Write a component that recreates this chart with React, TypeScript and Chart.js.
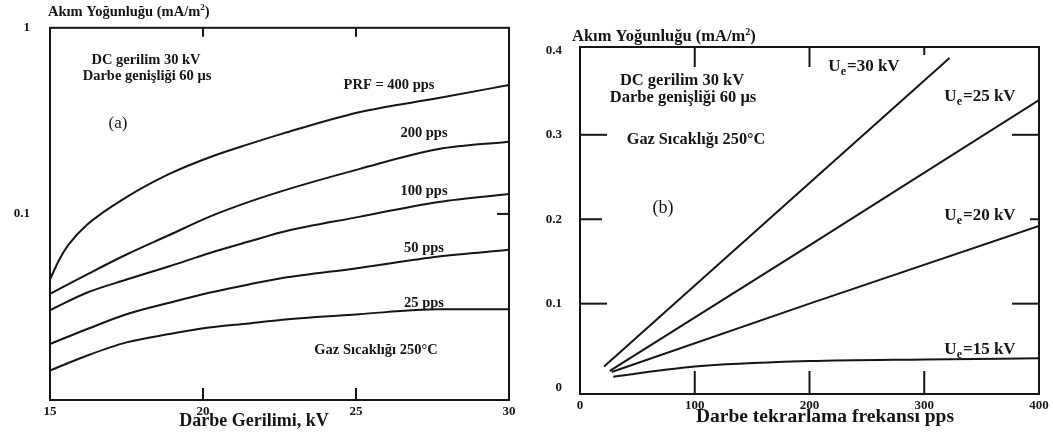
import { useEffect, useRef } from "react";
import { Chart, registerables } from "chart.js";

Chart.register(...registerables);

// ---------- Chart (a): current density vs pulse voltage (log y) ----------
const voltage400 = [15, 15.3, 15.6, 16.2, 17.5, 18.9, 20.2, 21.5, 22.6, 25.1, 27.7, 30];
const prf400 = [0.0444, 0.0567, 0.0682, 0.0871, 0.123, 0.164, 0.201, 0.237, 0.27, 0.352, 0.419, 0.493];
const voltageKV = [15, 16.2, 17.5, 18.9, 20.2, 21.5, 22.6, 25.1, 27.7, 30];
const prf200 = [0.0372, 0.0472, 0.0605, 0.077, 0.0964, 0.116, 0.133, 0.174, 0.223, 0.244];
const prf100 = [0.0304, 0.0377, 0.0444, 0.0523, 0.0615, 0.071, 0.08, 0.0964, 0.116, 0.128];
const prf50 = [0.02, 0.024, 0.0289, 0.0333, 0.0377, 0.0418, 0.0452, 0.0512, 0.059, 0.0641];
const prf25 = [0.0144, 0.0173, 0.0204, 0.0226, 0.0245, 0.0258, 0.027, 0.0289, 0.0307, 0.0307];
const voltTicks = [15, 20, 25, 30];
const densityTicksA = [0.1, 1];

// ---------- Chart (b): current density vs pulse repetition frequency ----------
const freq30 = [21, 200, 322];
const dens30 = [0.0255, 0.243, 0.391];
const freq25 = [26, 200, 400];
const dens25 = [0.0204, 0.169, 0.341];
const freq20 = [27.6, 200, 400];
const dens20 = [0.019, 0.1, 0.192];
const freq15 = [29, 100, 200, 300, 400];
const dens15 = [0.0135, 0.0255, 0.032, 0.034, 0.0353];
const freqTicks = [0, 100, 200, 300, 400];
const densityTicksB = [0, 0.1, 0.2, 0.3, 0.4];

const INK = "#151515";
const FONT = "'Liberation Serif', 'DejaVu Serif', serif";

type Txt = { t: string; x: number; y: number; size: number; align?: CanvasTextAlign; weight?: string };
type Tick = { axis: "top" | "bottom" | "left" | "right"; v: number; len: number };

function drawText(ctx: CanvasRenderingContext2D, a: Txt) {
  const weight = a.weight ?? "bold";
  const big = `${weight} ${a.size}px ${FONT}`;
  const small = `${weight} ${Math.round(a.size * 0.68)}px ${FONT}`;
  ctx.font = big;
  ctx.textBaseline = "middle";
  if (a.t.includes("_e")) {
    const [p1, p2] = a.t.split("_e");
    const w1 = ctx.measureText(p1).width;
    ctx.font = small;
    const w2 = ctx.measureText("e").width + 1;
    ctx.font = big;
    const w3 = ctx.measureText(p2).width;
    const x0 = a.x - (w1 + w2 + w3) / 2;
    ctx.textAlign = "left";
    ctx.fillText(p1, x0, a.y);
    ctx.font = small;
    ctx.fillText("e", x0 + w1, a.y + a.size * 0.3);
    ctx.font = big;
    ctx.fillText(p2, x0 + w1 + w2, a.y);
    return;
  }
  if (a.t.includes("²")) {
    const [p1, p2] = a.t.split("²");
    ctx.textAlign = "left";
    const w1 = ctx.measureText(p1).width;
    ctx.fillText(p1, a.x, a.y);
    ctx.font = `${weight} ${Math.round(a.size * 0.6)}px ${FONT}`;
    const w2 = ctx.measureText("2").width;
    ctx.fillText("2", a.x + w1, a.y - a.size * 0.3);
    ctx.font = big;
    ctx.fillText(p2, a.x + w1 + w2, a.y);
    return;
  }
  ctx.textAlign = a.align ?? "center";
  ctx.fillText(a.t, a.x, a.y);
}

const framePlugin = {
  id: "framePlugin",
  afterDraw(chart: any, _args: any, opts: any) {
    const { ctx, chartArea: ca, scales } = chart;
    ctx.save();
    ctx.strokeStyle = INK;
    ctx.lineWidth = 2;
    ctx.strokeRect(ca.left, ca.top, ca.right - ca.left, ca.bottom - ca.top);
    const ticks: Tick[] = opts.ticks || [];
    for (const t of ticks) {
      ctx.beginPath();
      if (t.axis === "top" || t.axis === "bottom") {
        const px = scales.x.getPixelForValue(t.v);
        const y0 = t.axis === "top" ? ca.top : ca.bottom;
        const dir = t.axis === "top" ? 1 : -1;
        ctx.moveTo(px, y0);
        ctx.lineTo(px, y0 + dir * t.len);
      } else {
        const py = scales.y.getPixelForValue(t.v);
        const x0 = t.axis === "left" ? ca.left : ca.right;
        const dir = t.axis === "left" ? 1 : -1;
        ctx.moveTo(x0, py);
        ctx.lineTo(x0 + dir * t.len, py);
      }
      ctx.stroke();
    }
    ctx.fillStyle = INK;
    for (const a of (opts.texts || []) as Txt[]) drawText(ctx, a);
    ctx.restore();
  },
};

function makeLine(xs: number[], ys: number[], smooth: boolean) {
  return {
    data: xs.map((x, i) => ({ x, y: ys[i] })),
    borderColor: INK,
    borderWidth: 2,
    pointRadius: 0,
    fill: false,
    cubicInterpolationMode: smooth ? ("monotone" as const) : ("default" as const),
    tension: smooth ? 0.4 : 0,
  };
}

const tickFont = { family: FONT, size: 13, weight: "bold" as const };

export default function App() {
  const refA = useRef<HTMLCanvasElement>(null);
  const refB = useRef<HTMLCanvasElement>(null);

  useEffect(() => {
    const chartA = new Chart(refA.current!, {
      type: "line",
      data: {
        datasets: [
          makeLine(voltage400, prf400, true),
          makeLine(voltageKV, prf200, true),
          makeLine(voltageKV, prf100, true),
          makeLine(voltageKV, prf50, true),
          makeLine(voltageKV, prf25, true),
        ],
      },
      options: {
        responsive: false,
        animation: false,
        events: [],
        layout: { padding: { top: 24, right: 21, left: 0, bottom: 0 } },
        plugins: {
          legend: { display: false },
          tooltip: { enabled: false },
          framePlugin: {
            ticks: [
              { axis: "top", v: 20, len: 9 },
              { axis: "top", v: 25, len: 9 },
              { axis: "bottom", v: 20, len: 12 },
              { axis: "bottom", v: 25, len: 12 },
              { axis: "right", v: 0.1, len: 12 },
            ],
            texts: [
              { t: "Akım Yoğunluğu (mA/m²)", x: 48, y: 12, size: 14.5 },
              { t: "DC gerilim 30 kV", x: 146, y: 60, size: 14.5 },
              { t: "Darbe genişliği 60 μs", x: 147, y: 76, size: 14.5 },
              { t: "(a)", x: 118, y: 124, size: 17, weight: "normal" },
              { t: "PRF = 400 pps", x: 389, y: 85, size: 14.5 },
              { t: "200 pps", x: 424, y: 133, size: 14.5 },
              { t: "100 pps", x: 424, y: 191, size: 14.5 },
              { t: "50 pps", x: 424, y: 248, size: 14.5 },
              { t: "25 pps", x: 424, y: 303, size: 14.5 },
              { t: "Gaz Sıcaklığı 250°C", x: 376, y: 350, size: 14.5 },
              { t: "Darbe Gerilimi, kV", x: 254, y: 421, size: 18 },
            ],
          },
        } as any,
        scales: {
          x: {
            type: "linear",
            min: 15,
            max: 30,
            grid: { display: false, drawTicks: false },
            border: { display: false },
            afterBuildTicks: (s: any) => {
              s.ticks = voltTicks.map((v) => ({ value: v }));
            },
            afterFit: (s: any) => {
              s.height = 34;
            },
            ticks: { font: tickFont, color: INK, padding: 4, callback: (v: any) => String(v), maxRotation: 0 },
          },
          y: {
            type: "logarithmic",
            min: 0.01,
            max: 1,
            grid: { display: false, drawTicks: false },
            border: { display: false },
            afterBuildTicks: (s: any) => {
              s.ticks = densityTicksA.map((v) => ({ value: v }));
            },
            afterFit: (s: any) => {
              s.width = 50;
            },
            ticks: { font: tickFont, color: INK, padding: 20, callback: (v: any) => String(v) },
          },
        },
      },
      plugins: [framePlugin],
    } as any);

    const chartB = new Chart(refB.current!, {
      type: "line",
      data: {
        datasets: [
          makeLine(freq30, dens30, false),
          makeLine(freq25, dens25, false),
          makeLine(freq20, dens20, false),
          makeLine(freq15, dens15, true),
        ],
      },
      options: {
        responsive: false,
        animation: false,
        events: [],
        layout: { padding: { top: 47, right: 14, left: 0, bottom: 0 } },
        plugins: {
          legend: { display: false },
          tooltip: { enabled: false },
          framePlugin: {
            ticks: [
              { axis: "top", v: 100, len: 20 },
              { axis: "top", v: 200, len: 20 },
              { axis: "top", v: 300, len: 8 },
              { axis: "bottom", v: 100, len: 23 },
              { axis: "bottom", v: 200, len: 23 },
              { axis: "bottom", v: 300, len: 23 },
              { axis: "left", v: 0.1, len: 27 },
              { axis: "left", v: 0.2, len: 22 },
              { axis: "left", v: 0.3, len: 27 },
              { axis: "right", v: 0.1, len: 27 },
              { axis: "right", v: 0.2, len: 9 },
              { axis: "right", v: 0.3, len: 27 },
            ],
            texts: [
              { t: "Akım Yoğunluğu (mA/m²)", x: 42, y: 37, size: 16.5 },
              { t: "U_e=30 kV", x: 334, y: 67, size: 17 },
              { t: "U_e=25 kV", x: 450, y: 97, size: 17 },
              { t: "U_e=20 kV", x: 450, y: 216, size: 17 },
              { t: "U_e=15 kV", x: 450, y: 350, size: 17 },
              { t: "DC gerilim 30 kV", x: 152, y: 81, size: 16.5 },
              { t: "Darbe genişliği 60 μs", x: 153, y: 98, size: 16.5 },
              { t: "Gaz Sıcaklığı 250°C", x: 166, y: 140, size: 16.3 },
              { t: "(b)", x: 133, y: 208, size: 18, weight: "normal" },
              { t: "Darbe tekrarlama frekansı pps", x: 295, y: 417, size: 19.5 },
            ],
          },
        } as any,
        scales: {
          x: {
            type: "linear",
            min: 0,
            max: 400,
            grid: { display: false, drawTicks: false },
            border: { display: false },
            afterBuildTicks: (s: any) => {
              s.ticks = freqTicks.map((v) => ({ value: v }));
            },
            afterFit: (s: any) => {
              s.height = 40;
            },
            ticks: { font: tickFont, color: INK, padding: 4, callback: (v: any) => String(v), maxRotation: 0 },
          },
          y: {
            type: "linear",
            min: -0.007,
            max: 0.404,
            grid: { display: false, drawTicks: false },
            border: { display: false },
            afterBuildTicks: (s: any) => {
              s.ticks = densityTicksB.map((v) => ({ value: v }));
            },
            afterFit: (s: any) => {
              s.width = 50;
            },
            ticks: { font: tickFont, color: INK, padding: 18, callback: (v: any) => String(v) },
          },
        },
      },
      plugins: [framePlugin],
    } as any);

    return () => {
      chartA.destroy();
      chartB.destroy();
    };
  }, []);

  return (
    <div style={{ position: "absolute", left: 0, top: 0, width: 1053, height: 434, background: "#fff" }}>
      <canvas ref={refA} width={530} height={434} style={{ position: "absolute", left: 0, top: 0 }} />
      <canvas ref={refB} width={523} height={434} style={{ position: "absolute", left: 530, top: 0 }} />
    </div>
  );
}
